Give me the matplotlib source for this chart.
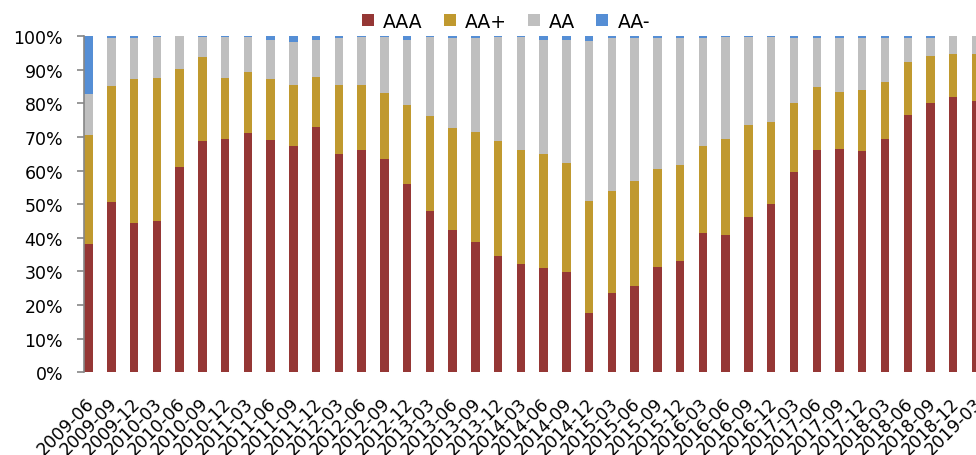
import matplotlib
matplotlib.use("Agg")
import matplotlib.pyplot as plt
from matplotlib.ticker import FuncFormatter, MultipleLocator
from matplotlib.transforms import ScaledTranslation
import numpy as np

quarters = [
    "2009-06", "2009-09", "2009-12",
    "2010-03", "2010-06", "2010-09", "2010-12",
    "2011-03", "2011-06", "2011-09", "2011-12",
    "2012-03", "2012-06", "2012-09", "2012-12",
    "2013-03", "2013-06", "2013-09", "2013-12",
    "2014-03", "2014-06", "2014-09", "2014-12",
    "2015-03", "2015-06", "2015-09", "2015-12",
    "2016-03", "2016-06", "2016-09", "2016-12",
    "2017-03", "2017-06", "2017-09", "2017-12",
    "2018-03", "2018-06", "2018-09", "2018-12",
    "2019-03",
]

# share of each rating grade, in percent
aaa = [38.2, 50.6, 44.4, 45.1, 60.9, 68.9, 69.5, 71.1, 69.2, 67.2,
       73.0, 65.0, 66.2, 63.4, 56.1, 48.1, 42.4, 38.6, 34.7, 32.3,
       30.9, 29.9, 17.7, 23.7, 25.8, 31.4, 33.0, 41.5, 40.9, 46.2,
       49.9, 59.6, 66.2, 66.5, 65.7, 69.5, 76.5, 80.2, 82.0, 80.6]
aa_plus = [32.5, 34.5, 42.8, 42.5, 29.4, 25.0, 18.1, 18.3, 18.0, 18.3,
           14.9, 20.5, 19.3, 19.7, 23.5, 28.0, 30.3, 33.0, 34.2, 33.9,
           34.1, 32.4, 33.2, 30.3, 31.0, 29.2, 28.7, 25.9, 28.6, 27.4,
           24.5, 20.6, 18.5, 16.8, 18.2, 16.9, 15.8, 13.9, 12.7, 14.1]
aa = [12.1, 14.3, 12.2, 12.0, 9.7, 5.7, 12.0, 10.2, 11.7, 12.8,
      10.8, 13.9, 14.1, 16.5, 19.3, 23.5, 26.7, 27.9, 30.7, 33.4,
      33.9, 36.6, 47.7, 45.4, 42.6, 38.9, 37.8, 32.1, 30.2, 26.1,
      25.3, 19.3, 14.8, 16.2, 15.6, 13.1, 7.2, 5.4, 5.3, 5.3]
aa_minus = [17.2, 0.6, 0.6, 0.4, 0.0, 0.4, 0.4, 0.4, 1.1, 1.7,
            1.3, 0.6, 0.4, 0.4, 1.1, 0.4, 0.6, 0.5, 0.4, 0.4,
            1.1, 1.1, 1.4, 0.6, 0.6, 0.5, 0.5, 0.5, 0.3, 0.3,
            0.3, 0.5, 0.5, 0.5, 0.5, 0.5, 0.5, 0.5, 0.0, 0.0]

series_names = ["AAA", "AA+", "AA", "AA-"]
colors = ["#953735", "#C0992F", "#BFBFBF", "#558ED5"]

fig = plt.figure(figsize=(9.76, 4.56), dpi=100)
ax = fig.add_axes([84 / 976, 1 - 373.3 / 456, 1 - 84 / 976, (373.3 - 37) / 456])

x = np.arange(len(quarters))
bottom = np.zeros(len(quarters))
handles = []
for name, vals, c in zip(series_names, [aaa, aa_plus, aa, aa_minus], colors):
    vals = np.asarray(vals, dtype=float)
    h = ax.bar(x, vals, width=0.37, bottom=bottom, color=c, label=name,
               edgecolor="none", linewidth=0)
    handles.append(h)
    bottom += vals

ax.set_ylim(0, 100)
ax.set_xlim(-0.2, 39.0)
ax.yaxis.set_major_locator(MultipleLocator(10))
ax.yaxis.set_major_formatter(FuncFormatter(lambda v, p: f"{v:.0f}%"))

for side in ["top", "right", "bottom"]:
    ax.spines[side].set_visible(False)
ax.spines["left"].set_color("#868686")
ax.spines["left"].set_linewidth(1.2)

ax.tick_params(axis="y", direction="out", length=5, width=1.2, color="#868686",
               labelsize=12.5, pad=10, labelcolor="#000000")
ax.tick_params(axis="x", length=0, pad=20, labelsize=12.5)
ax.set_xticks(x)
ax.set_xticklabels(quarters, rotation=45, ha="right", va="center",
                   rotation_mode="anchor")
shift = ScaledTranslation(3 / 100, 0, fig.dpi_scale_trans)
for lbl in ax.get_xticklabels():
    lbl.set_transform(lbl.get_transform() + shift)

fig.legend(handles=handles, labels=series_names, loc="center",
           bbox_to_anchor=(506 / 976, 1 - 22 / 456), ncol=4, frameon=False,
           fontsize=13.5, handlelength=0.65, handleheight=0.65,
           handletextpad=0.5, columnspacing=1.1, borderaxespad=0)

fig.savefig("out.png", dpi=100)
